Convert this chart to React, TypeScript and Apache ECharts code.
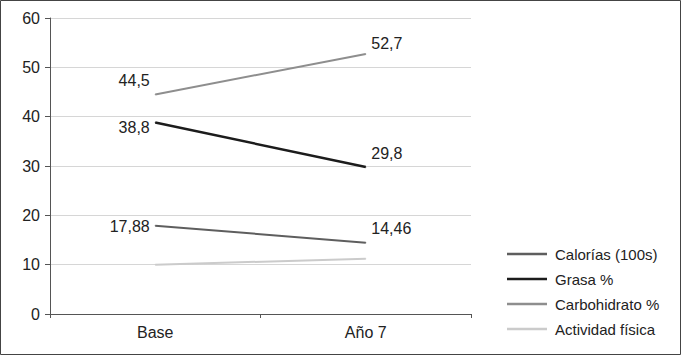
import React, { useEffect, useRef } from "react";
import * as echarts from "echarts";

const categories = ["Base", "Año 7"];
const seriesNames = ["Calorías (100s)", "Grasa %", "Carbohidrato %", "Actividad física"];
const calorias = [17.88, 14.46];
const grasa = [38.8, 29.8];
const carbohidrato = [44.5, 52.7];
const actividad = [10, 11.2];
const yTicks = { min: 0, max: 60, interval: 10 };

const FONT = "'Liberation Sans', Arial, Helvetica, sans-serif";
const TEXT = "#222";

// label placement per series: [Base, Año 7] offsets
const labelPlacement: Record<string, { offset: number[] }[] | null> = {
  "Calorías (100s)": [{ offset: [0, 1] }, { offset: [0, -14] }],
  "Grasa %": [{ offset: [0, 5] }, { offset: [0, -13] }],
  "Carbohidrato %": [{ offset: [0, -14] }, { offset: [0, -11] }],
  "Actividad física": null,
};

const colors = ["#5e5e5e", "#1c1c1c", "#8e8e8e", "#cbcbcb"];
const widths = [2, 2.5, 2, 2];

export default function App() {
  const ref = useRef<HTMLDivElement>(null);
  useEffect(() => {
    if (!ref.current) return;
    const chart = echarts.init(ref.current, null, { renderer: "svg" });
    const values = [calorias, grasa, carbohidrato, actividad];
    const fmt = (v: number) => String(v).replace(".", ",");
    const series = seriesNames.map((name, i) => {
      const place = labelPlacement[name];
      return {
        name,
        type: "line",
        color: colors[i],
        symbol: "circle",
        symbolSize: 1,
        showSymbol: true,
        lineStyle: { width: widths[i], color: colors[i] },
        itemStyle: { color: colors[i] },
        data: values[i].map((v, j) => ({
          value: v,
          label: place
            ? {
                show: true,
                position: j === 0 ? "left" : "right",
                distance: 5,
                offset: place[j].offset,
                formatter: () => fmt(v),
                fontFamily: FONT,
                fontSize: 16,
                color: TEXT,
              }
            : { show: false },
        })),
      };
    });
    chart.setOption({
      animation: false,
      backgroundColor: "#fff",
      grid: { left: 50, right: 210, top: 18, height: 296, containLabel: false },
      xAxis: {
        type: "category",
        data: categories,
        boundaryGap: true,
        axisLine: { lineStyle: { color: "#555", width: 1 } },
        axisTick: { show: true, length: 4, lineStyle: { color: "#555" } },
        axisLabel: { margin: 10, fontFamily: FONT, fontSize: 16, color: TEXT },
        splitLine: { show: false },
      },
      yAxis: {
        type: "value",
        min: yTicks.min,
        max: yTicks.max,
        interval: yTicks.interval,
        axisLine: { show: true, lineStyle: { color: "#555", width: 1 } },
        axisTick: { show: true, length: 5, lineStyle: { color: "#555" } },
        axisLabel: { margin: 10, fontFamily: FONT, fontSize: 16, color: TEXT },
        splitLine: { show: true, lineStyle: { color: "#d6d6d6", width: 1 } },
      },
      legend: {
        orient: "vertical",
        left: 507,
        top: 246,
        padding: 0,
        icon: "rect",
        itemWidth: 40,
        itemHeight: 2.5,
        itemGap: 9,
        data: seriesNames,
        textStyle: { fontFamily: FONT, fontSize: 15, color: TEXT, lineHeight: 16, padding: [0, 0, 0, 3] },
      },
      graphic: [
        {
          type: "rect",
          shape: { x: 0.5, y: 0.5, width: 680, height: 354 },
          style: { fill: "none", stroke: "#444", lineWidth: 1 },
          silent: true,
        },
      ],
      series,
    });
    return () => chart.dispose();
  }, []);
  return (
    <div
      ref={ref}
      style={{ position: "fixed", left: 0, top: 0, width: 681, height: 355 }}
    />
  );
}
